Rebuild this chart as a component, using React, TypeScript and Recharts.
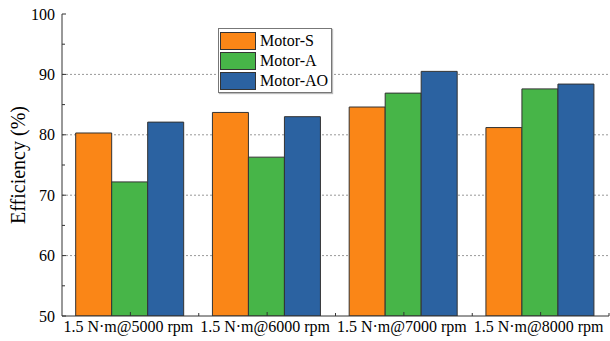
import React from 'react';
import { BarChart, Bar, XAxis, YAxis, CartesianGrid } from 'recharts';

const conditions = ['1.5 N·m@5000 rpm', '1.5 N·m@6000 rpm', '1.5 N·m@7000 rpm', '1.5 N·m@8000 rpm'];
const motorS = [80.3, 83.7, 84.6, 81.2];
const motorA = [72.2, 76.3, 86.9, 87.6];
const motorAO = [82.1, 83.0, 90.5, 88.4];
const yTicks = [50, 55, 60, 65, 70, 75, 80, 85, 90, 95, 100];
const gridTicks = [60, 70, 80, 90];

const series = [
  { key: 'motorS', name: 'Motor-S', color: '#FA8617' },
  { key: 'motorA', name: 'Motor-A', color: '#47B548' },
  { key: 'motorAO', name: 'Motor-AO', color: '#2B62A1' },
];

const data = conditions.map((name, i) => ({
  name,
  motorS: motorS[i],
  motorA: motorA[i],
  motorAO: motorAO[i],
}));

const FONT = "'Liberation Serif', 'Times New Roman', serif";

const LeftTick = (props: any) => {
  const { x, y, payload } = props;
  const major = payload.value % 10 === 0;
  return (
    <g>
      <line x1={x} y1={y} x2={x + (major ? 4 : 3)} y2={y} stroke="#333" strokeWidth={1} />
      {major && (
        <text x={x - 7} y={y} textAnchor="end" dominantBaseline="central" fontSize={16} fontFamily={FONT} fill="#000">
          {payload.value}
        </text>
      )}
    </g>
  );
};

const RightTick = (props: any) => {
  const { x, y, payload } = props;
  const major = payload.value % 10 === 0;
  return <line x1={x} y1={y} x2={x - (major ? 4 : 3)} y2={y} stroke="#333" strokeWidth={1} />;
};

const BottomTick = (props: any) => {
  const { x, y, payload } = props;
  const half = payload.offset || 68.5;
  return (
    <g>
      <line x1={x} y1={y} x2={x} y2={y - 4} stroke="#333" />
      <line x1={x + half} y1={y} x2={x + half} y2={y - 3} stroke="#333" />
      <text x={x - 2} y={y + 16} textAnchor="middle" fontSize={16} fontFamily={FONT} fill="#000">
        {payload.value}
      </text>
    </g>
  );
};

const TopTick = (props: any) => {
  const { x, y, payload } = props;
  const half = payload.offset || 68.5;
  return (
    <g>
      <line x1={x} y1={y} x2={x} y2={y + 4} stroke="#333" />
      <line x1={x + half} y1={y} x2={x + half} y2={y + 3} stroke="#333" />
    </g>
  );
};

const YLabel = (props: any) => {
  const { viewBox } = props;
  const cy = viewBox.y + viewBox.height / 2;
  return (
    <text
      x={18}
      y={cy}
      transform={`rotate(-90, 18, ${cy})`}
      textAnchor="middle"
      dominantBaseline="central"
      fontSize={20}
      fontFamily={FONT}
      fill="#000"
    >
      Efficiency (%)
    </text>
  );
};

const LegendBox = () => (
  <div
    style={{
      position: 'absolute',
      left: 218,
      top: 28,
      border: '1px solid #777',
      background: '#fff',
      padding: '2px 3px 1px 1px',
      boxShadow: '1px 1px 1px #bbb',
      fontFamily: FONT,
      fontSize: 16,
      lineHeight: '20px',
    }}
  >
    {series.map((s) => (
      <div key={s.key} style={{ display: 'flex', alignItems: 'center', height: 20 }}>
        <span
          style={{
            display: 'inline-block',
            width: 34,
            height: 16,
            background: s.color,
            border: '1px solid #333',
            marginRight: 4,
          }}
        />
        <span style={{ color: '#000' }}>{s.name}</span>
      </div>
    ))}
  </div>
);

export default function App() {
  return (
    <div style={{ position: 'absolute', left: 0, top: 0, width: 610, height: 341, background: '#fff' }}>
      <BarChart
        width={610}
        height={341}
        data={data}
        margin={{ top: 14, right: 1, left: 0, bottom: 0 }}
        barCategoryGap="10%"
        barGap={0}
      >
        <CartesianGrid
          vertical={false}
          horizontalValues={gridTicks}
          yAxisId="left"
          stroke="#999"
          strokeDasharray="2 2"
        />
        <XAxis
          dataKey="name"
          height={25}
          interval={0}
          tick={<BottomTick />}
          tickLine={false}
          tickSize={0}
          tickMargin={0}
          axisLine={{ stroke: '#333' }}
        />
        <XAxis
          xAxisId="top"
          orientation="top"
          dataKey="name"
          height={0}
          interval={0}
          tick={<TopTick />}
          tickLine={false}
          tickSize={0}
          tickMargin={0}
          axisLine={{ stroke: '#333' }}
        />
        <YAxis
          yAxisId="left"
          width={62}
          domain={[50, 100]}
          ticks={yTicks}
          interval={0}
          allowDataOverflow
          tick={<LeftTick />}
          tickLine={false}
          tickSize={0}
          tickMargin={0}
          axisLine={{ stroke: '#333' }}
          label={<YLabel />}
        />
        <YAxis
          yAxisId="right"
          orientation="right"
          width={0}
          domain={[50, 100]}
          ticks={yTicks}
          interval={0}
          allowDataOverflow
          tick={<RightTick />}
          tickLine={false}
          tickSize={0}
          tickMargin={0}
          axisLine={{ stroke: '#333' }}
        />
        {series.map((s) => (
          <Bar
            key={s.key}
            dataKey={s.key}
            name={s.name}
            yAxisId="left"
            fill={s.color}
            stroke="#333"
            strokeWidth={1}
            isAnimationActive={false}
          />
        ))}
      </BarChart>
      <LegendBox />
    </div>
  );
}
